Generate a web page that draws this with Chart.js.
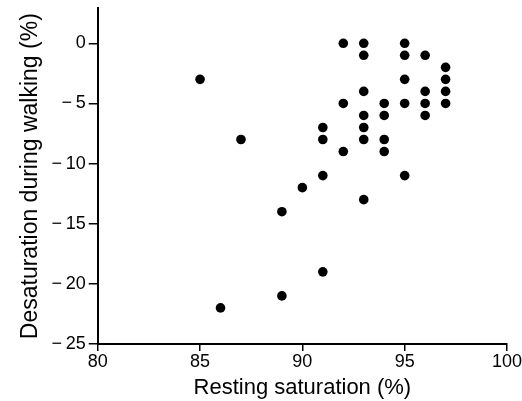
<!DOCTYPE html>
<html>
<head>
<meta charset="utf-8">
<script src="https://cdn.jsdelivr.net/npm/chart.js@4"></script>
<style>
html,body{margin:0;padding:0;background:#fff;}
#wrap{width:522px;height:401px;}
</style>
</head>
<body>
<div id="wrap"><canvas id="c" width="522" height="401"></canvas></div>
<script>
const restingSaturation = [85, 86, 87, 89, 89, 90, 91, 91, 91, 91, 92, 92, 92,
  93, 93, 93, 93, 93, 93, 93, 94, 94, 94, 94, 95, 95, 95, 95, 95,
  96, 96, 96, 96, 97, 97, 97, 97];
const desaturation = [-3, -22, -8, -14, -21, -12, -7, -8, -11, -19, 0, -5, -9,
  0, -1, -4, -6, -7, -8, -13, -5, -6, -8, -9, 0, -1, -3, -5, -11,
  -1, -4, -5, -6, -2, -3, -4, -5];
const xTicks = [80, 85, 90, 95, 100];
const yTicks = [-25, -20, -15, -10, -5, 0];
const xTitle = 'Resting saturation (%)';
const yTitle = 'Desaturation during walking (%)';

const points = restingSaturation.map((x, i) => ({x: x, y: desaturation[i]}));
const fontFam = '"Liberation Sans", Arial, Helvetica, sans-serif';
const fmt = v => (v < 0 ? '\u2212\u2009' + Math.abs(v) : String(v));

new Chart(document.getElementById('c'), {
  type: 'scatter',
  data: {datasets: [{data: points, backgroundColor: '#000', borderColor: '#000', pointRadius: 4.8, pointHoverRadius: 4.8, borderWidth: 0}]},
  options: {
    responsive: false,
    animation: false,
    plugins: {legend: {display: false}, tooltip: {enabled: false}},
    layout: {padding: {top: 6, right: 14, bottom: 0, left: 17}},
    scales: {
      x: {
        type: 'linear', min: 80, max: 100,
        afterBuildTicks: s => { s.ticks = xTicks.map(v => ({value: v})); },
        ticks: {color: '#000', font: {family: fontFam, size: 18}, padding: 0, callback: fmt},
        grid: {drawOnChartArea: false, drawTicks: true, tickLength: 7, color: '#000', lineWidth: 1.5},
        border: {display: true, color: '#000', width: 2},
        title: {display: true, text: xTitle, color: '#000', font: {family: fontFam, size: 22}, padding: {top: 2, bottom: 0}}
      },
      y: {
        type: 'linear', min: -25, max: 2.9,
        afterBuildTicks: s => { s.ticks = yTicks.map(v => ({value: v})); },
        ticks: {color: '#000', font: {family: fontFam, size: 18, lineHeight: 0.6}, padding: 3, callback: fmt},
        grid: {drawOnChartArea: false, drawTicks: true, tickLength: 9, color: '#000', lineWidth: 1.5},
        border: {display: true, color: '#000', width: 2},
        title: {display: true, text: yTitle, color: '#000', font: {family: fontFam, size: 23}, padding: {top: 0, bottom: 4}}
      }
    }
  }
});
</script>
</body>
</html>
